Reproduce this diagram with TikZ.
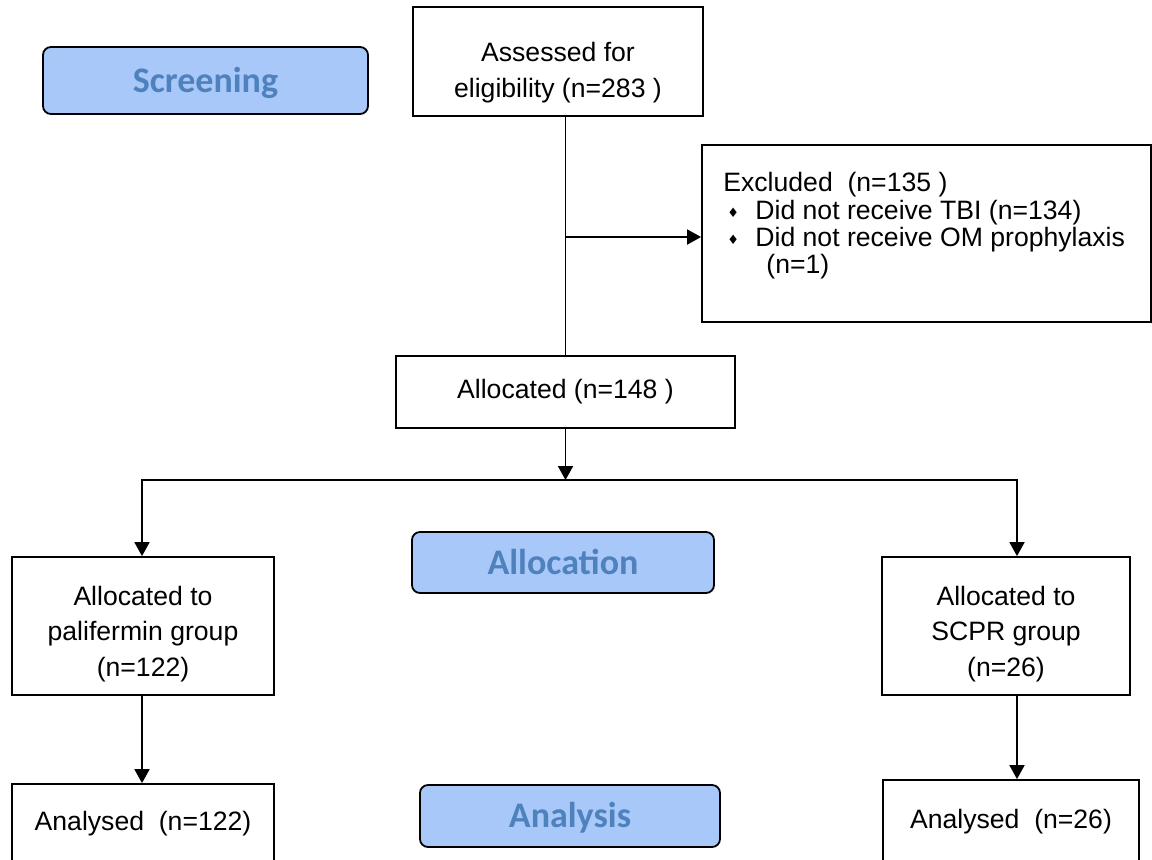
\documentclass[tikz,border=0pt]{standalone}
\usepackage{fontspec}
\setmainfont{Liberation Sans}
\newfontfamily\phasefont{Carlito}
\newfontfamily\symfont{DejaVu Sans}
\usetikzlibrary{arrows.meta}
\definecolor{phasefill}{RGB}{168, 200, 250}
\definecolor{phasetext}{RGB}{79, 129, 189}
\tikzset{
  flowbox/.style={draw, line width=0.9pt, align=center, inner sep=0pt,
    font=\fontsize{13.3}{17.8}\selectfont},
  phasebox/.style={draw, line width=0.9pt, rounded corners=4pt, fill=phasefill,
    text=phasetext, inner sep=0pt, text height=11.8pt, text depth=0pt,
    font=\phasefont\bfseries\fontsize{18}{20}\selectfont},
  link/.style={line width=0.9pt},
  tip/.tip={Triangle[width=7.5pt, length=7pt]},
  arrowlink/.style={link, -tip}
}
\newcommand{\exbullet}{\makebox[16pt][l]{\hspace{2pt}\raisebox{1pt}{\symfont\fontsize{6.5}{6.5}\selectfont ♦}}}

\begin{document}
\begin{tikzpicture}[x=0.5pt, y=-0.5pt]
  \useasboundingbox (0,0) rectangle (1152,859);

  % phase labels
  \node[phasebox, minimum width=162.5pt, minimum height=33.5pt] (screen) at (205.5,80.5) {Screening};
  \node[phasebox, minimum width=151pt, minimum height=30.5pt] (allocphase) at (563,562.5) {Allocation};
  \node[phasebox, minimum width=150pt, minimum height=31pt] (anphase) at (570,816) {Analysis};

  % enrolment
  \node[flowbox, minimum width=145pt, minimum height=54.5pt] (assess) at (558,61.5)
    {\rule{0pt}{20.5pt}Assessed for\\eligibility (n=283 )};
  \node[flowbox, minimum width=224.5pt, minimum height=88.5pt] (excl) at (926.5,233.5) {};
  \node[anchor=north west, align=left, inner sep=0pt, font=\fontsize{13.3}{13.7}\selectfont] (excltext) at (723,172)
    {Excluded\ \ (n=135 )\\
     \exbullet Did not receive TBI (n=134)\\
     \exbullet Did not receive OM prophylaxis\\
     \hspace{21.5pt}(n=1)};
  \node[flowbox, minimum width=169.5pt, minimum height=36pt] (alloc) at (565.5,392) {Allocated (n=148 )};

  % groups
  \node[flowbox, minimum width=131pt, minimum height=69pt] (pali) at (143,626)
    {\rule{0pt}{17.5pt}Allocated to\\palifermin group\\(n=122)};
  \node[flowbox, minimum width=124pt, minimum height=69pt] (scpr) at (1006,626)
    {\rule{0pt}{17.5pt}Allocated to\\SCPR group\\(n=26)};
  \node[flowbox, minimum width=131pt, minimum height=40pt] (anpali) at (143,824) {Analysed\ \ (n=122)};
  \node[flowbox, minimum width=128pt, minimum height=42pt] (anscpr) at (1011,822) {Analysed\ \ (n=26)};

  % connectors
  \coordinate (exsplit) at (566,237);
  \coordinate (lsplit) at (142,480);
  \coordinate (rsplit) at (1017,480);
  \draw[link] (alloc.north |- assess.south) -- (alloc.north);
  \draw[arrowlink] (exsplit) -- (exsplit -| excl.west);
  \draw[arrowlink] (alloc.south) -- (alloc.south |- lsplit);
  \draw[link, tip-tip] (lsplit |- pali.north) -- (lsplit) -- (rsplit) -- (rsplit |- scpr.north);
  \draw[arrowlink] (pali.south -| lsplit) -- (lsplit |- anpali.north);
  \draw[arrowlink] (scpr.south -| rsplit) -- (rsplit |- anscpr.north);
\end{tikzpicture}
\end{document}
